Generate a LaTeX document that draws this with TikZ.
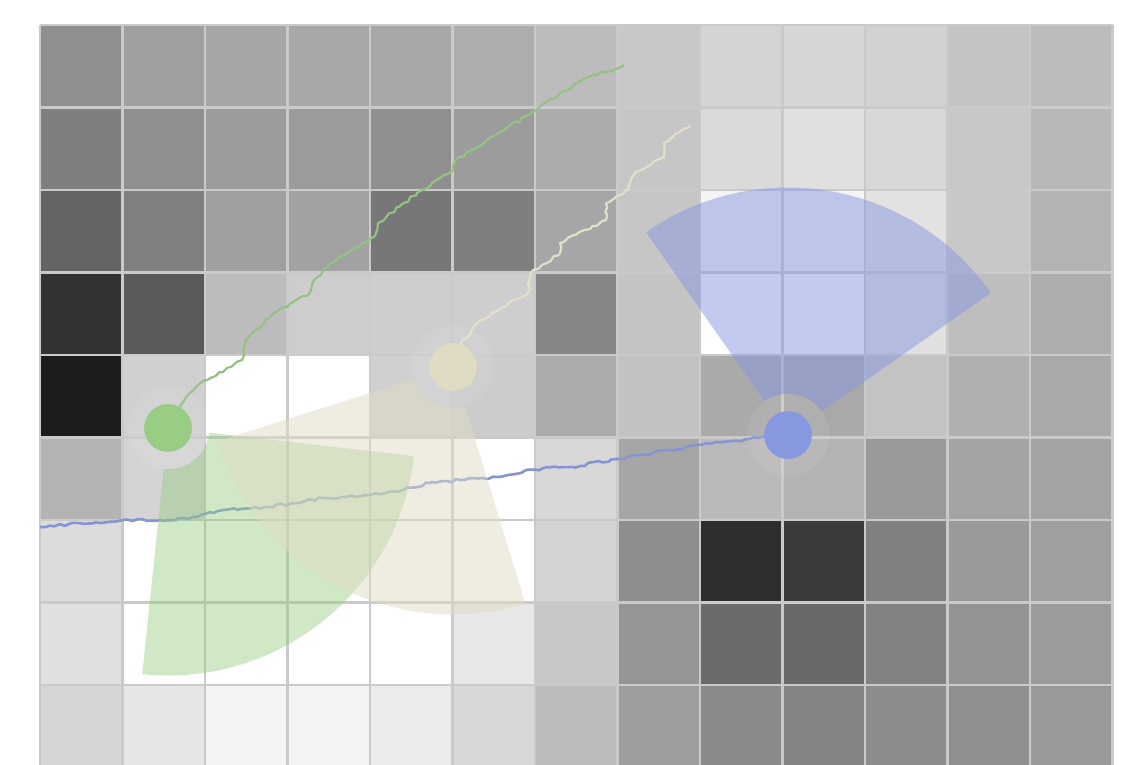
\documentclass[tikz,border=0pt]{standalone}
\usepackage{tikz}
\usetikzlibrary{calc, decorations.pathmorphing}
\definecolor{AgentGreen}{RGB}{153,204,133}
\definecolor{AgentSand}{RGB}{224,220,196}
\definecolor{AgentBlue}{RGB}{135,152,224}
\definecolor{GridLine}{RGB}{202,202,202}

\begin{document}
\begin{tikzpicture}[
  gridline/.style={draw=GridLine, line width=1pt},
  fov/.style={fill opacity=0.5},
  halo/.style={fill=white, fill opacity=0.07},
  agent/.style={circle, inner sep=0pt, minimum size=0.58cm},
  track/.style={line width=0.75pt, line join=round, decorate,
    decoration={random steps, segment length=1.6pt, amplitude=0.5pt}}
]
\useasboundingbox (-0.485,0.042) rectangle (13.406,9.303);
\pgfmathsetseed{11}

% map cells, 13 per row, top row first
\foreach \v [count=\i from 0] in {
  143,160,166,168,168,173,188,200,212,214,210,196,188,
  127,143,156,155,143,156,172,198,218,224,216,200,184,
  100,128,160,162,119,127,166,198,244,244,226,200,180,
  51,90,188,205,206,206,134,196,255,255,224,190,173,
  28,208,255,255,208,204,172,194,170,169,195,176,169,
  180,212,255,255,255,255,216,166,186,179,153,164,163,
  220,255,255,255,255,255,212,142,46,58,128,154,159,
  224,255,255,255,255,232,200,149,107,105,130,147,155,
  214,230,244,244,235,216,188,158,138,131,140,143,153}{
  \pgfmathtruncatemacro\c{mod(\i,13)}
  \pgfmathtruncatemacro\r{div(\i,13)}
  \definecolor{cellgrey}{RGB}{\v,\v,\v}
  \fill[cellgrey] (\c,8-\r) rectangle ++(1,1);
}
\draw[gridline] (0,0) grid (13,9);

\coordinate (ga) at (1.552,4.115);
\coordinate (sa) at (5.006,4.855);
\coordinate (ba) at (9.067,4.030);
\coordinate (gend) at (7.079,8.515);
\coordinate (send) at (7.879,7.788);
\coordinate (bend) at (0,2.915);

% trajectories
\draw[track, AgentGreen!85!gray] (ga) -- (1.709,4.394) -- (1.891,4.612) -- (2.061,4.721)
  -- (2.448,4.939) -- (2.497,5.182) -- (2.836,5.509) -- (3.273,5.752) -- (3.321,5.909)
  -- (3.624,6.188) -- (4.048,6.430) -- (4.097,6.600) -- (4.570,6.964) -- (5.006,7.242)
  -- (5.042,7.364) -- (5.952,7.933) -- (6.048,8.006) -- (6.655,8.370) -- (gend);
\draw[track, AgentSand!90!white] (sa) -- (5.091,5.121) -- (5.345,5.424) -- (5.915,5.752)
  -- (5.952,5.994) -- (6.303,6.236) -- (6.303,6.358) -- (6.861,6.636) -- (6.861,6.842)
  -- (7.127,7.0) -- (7.212,7.206) -- (7.564,7.400) -- (7.564,7.570) -- (send);
\draw[track, AgentBlue!85!gray, line width=0.9pt] (ba) -- (8.764,4.006) -- (8.012,3.909)
  -- (6.994,3.739) -- (6.461,3.642) -- (6.145,3.642) -- (5.430,3.497) -- (5.091,3.485)
  -- (4.727,3.448) -- (4.400,3.364) -- (4.000,3.303) -- (3.430,3.267) -- (2.788,3.158)
  -- (2.218,3.121) -- (1.903,3.036) -- (1.455,3.0) -- (1.018,3.0) -- (bend);

% sensing sectors
\fill[AgentGreen, fov, fill opacity=0.45] (ga) ++(-96:0.5) -- ++(-96:2.5)
  arc[start angle=-96, end angle=-6.5, radius=3] -- ($(ga)+(-6.5:0.5)$)
  arc[start angle=-6.5, end angle=-96, radius=0.5] -- cycle;
\fill[AgentSand, fov] (sa) ++(197.5:0.5) -- ++(197.5:2.5)
  arc[start angle=197.5, end angle=287, radius=3] -- ($(sa)+(287:0.5)$)
  arc[start angle=287, end angle=197.5, radius=0.5] -- cycle;
\fill[AgentBlue, fov] (ba) ++(35:0.5) -- ++(35:2.5)
  arc[start angle=35, end angle=125, radius=3] -- ($(ba)+(125:0.5)$)
  arc[start angle=125, end angle=35, radius=0.5] -- cycle;

\fill[halo] (ga) circle (0.5);
\fill[halo] (sa) circle (0.5);
\fill[halo] (ba) circle (0.5);

\node[agent, fill=AgentGreen] (gdot) at (ga) {};
\node[agent, fill=AgentSand] (sdot) at (sa) {};
\node[agent, fill=AgentBlue] (bdot) at (ba) {};
\end{tikzpicture}
\end{document}
